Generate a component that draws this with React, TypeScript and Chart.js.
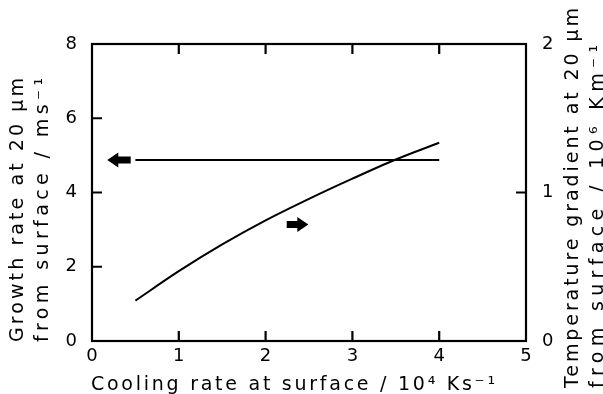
import React, { useEffect, useRef } from "react";
import { Chart, registerables } from "chart.js";

Chart.register(...registerables);

// ---- data ----
const coolingRate = [0.5, 1, 1.5, 2, 2.5, 3, 3.5, 4];
const tempGradient = [0.272, 0.47, 0.65, 0.812, 0.957, 1.093, 1.222, 1.335];
const growthRateX = [0.5, 4];
const growthRate = [4.875, 4.875];

const xTickValues = [0, 1, 2, 3, 4, 5];
const leftTickValues = [0, 2, 4, 6, 8];
const rightTickValues = [0, 1, 2];

// arrows (x in cooling rate, y in growth-rate units)
const arrowTailX = [0.446, 2.243];
const arrowTipX = [0.176, 2.492];
const arrowY = [4.875, 3.14];

const xTitle = "Cooling rate at surface / 10⁴ Ks⁻¹";
const leftTitle = ["Growth rate at 20 μm", "from surface / ms⁻¹"];
const rightTitle = ["Temperature gradient at 20 μm", "from surface / 10⁶ Km⁻¹"];

const FONT = "'DejaVu Sans', sans-serif";

function fitText(ctx: CanvasRenderingContext2D, text: string, target: number) {
  (ctx as any).letterSpacing = "0px";
  const w = ctx.measureText(text).width;
  const n = Array.from(text).length;
  const sp = (target - w) / Math.max(1, n - 1);
  (ctx as any).letterSpacing = `${sp}px`;
}

const framePlugin = {
  id: "framePlugin",
  afterDraw(chart: any) {
    const ctx: CanvasRenderingContext2D = chart.ctx;
    const { left, right, top, bottom } = chart.chartArea;
    const xs = chart.scales.x;
    const yl = chart.scales.y;
    const yr = chart.scales.y1;
    ctx.save();
    ctx.strokeStyle = "#000";
    ctx.lineWidth = 2.2;
    ctx.strokeRect(left, top, right - left, bottom - top);
    const tl = 10;
    ctx.beginPath();
    xTickValues.slice(1, -1).forEach((v) => {
      const px = xs.getPixelForValue(v);
      ctx.moveTo(px, bottom);
      ctx.lineTo(px, bottom - tl);
      ctx.moveTo(px, top);
      ctx.lineTo(px, top + tl);
    });
    leftTickValues.slice(1, -1).forEach((v) => {
      const py = yl.getPixelForValue(v);
      ctx.moveTo(left, py);
      ctx.lineTo(left + tl, py);
    });
    rightTickValues.slice(1, -1).forEach((v) => {
      const py = yr.getPixelForValue(v);
      ctx.moveTo(right, py);
      ctx.lineTo(right - tl, py);
    });
    ctx.stroke();

    // arrows
    ctx.fillStyle = "#000";
    arrowTipX.forEach((tip, i) => {
      const tx = xs.getPixelForValue(tip);
      const bx = xs.getPixelForValue(arrowTailX[i]);
      const py = yl.getPixelForValue(arrowY[i]);
      const dir = Math.sign(tx - bx);
      const headLen = 11;
      const headHalf = 7.5;
      const shaftHalf = 3.5;
      const hx = tx - dir * headLen;
      ctx.beginPath();
      ctx.moveTo(tx, py);
      ctx.lineTo(hx, py - headHalf);
      ctx.lineTo(hx, py - shaftHalf);
      ctx.lineTo(bx, py - shaftHalf);
      ctx.lineTo(bx, py + shaftHalf);
      ctx.lineTo(hx, py + shaftHalf);
      ctx.lineTo(hx, py + headHalf);
      ctx.closePath();
      ctx.fill();
    });

    // titles
    ctx.font = `19px ${FONT}`;
    ctx.fillStyle = "#000";
    ctx.textAlign = "left";
    ctx.textBaseline = "alphabetic";
    fitText(ctx, xTitle, 404);
    ctx.fillText(xTitle, left - 1, bottom + 49);

    const drawVert = (text: string, cx: number, startY: number, len: number) => {
      ctx.save();
      ctx.translate(cx, startY);
      ctx.rotate(-Math.PI / 2);
      ctx.textBaseline = "middle";
      fitText(ctx, text, len);
      ctx.fillText(text, 0, 0);
      ctx.restore();
    };
    drawVert(leftTitle[0], left - 74, bottom + 1, 264);
    drawVert(leftTitle[1], left - 49, bottom + 1, 264);
    drawVert(rightTitle[0], right + 47, bottom + 47, 380);
    drawVert(rightTitle[1], right + 72, bottom + 47, 343);
    (ctx as any).letterSpacing = "0px";
    ctx.restore();
  },
};

export default function App() {
  const ref = useRef<HTMLCanvasElement | null>(null);
  useEffect(() => {
    if (!ref.current) return;
    const tickFont = { family: FONT, size: 18 };
    const chart = new Chart(ref.current, {
      type: "line",
      data: {
        datasets: [
          {
            label: "Growth rate",
            data: growthRateX.map((x, i) => ({ x, y: growthRate[i] })),
            yAxisID: "y",
            borderColor: "#000",
            borderWidth: 2,
            pointRadius: 0,
            fill: false,
          },
          {
            label: "Temperature gradient",
            data: coolingRate.map((x, i) => ({ x, y: tempGradient[i] })),
            yAxisID: "y1",
            borderColor: "#000",
            borderWidth: 2,
            pointRadius: 0,
            fill: false,
            cubicInterpolationMode: "monotone",
          },
        ],
      },
      options: {
        animation: false,
        responsive: false,
        events: [],
        layout: { padding: { top: 44, left: 0, right: 0, bottom: 0 } },
        plugins: { legend: { display: false }, tooltip: { enabled: false } },
        scales: {
          x: {
            type: "linear",
            position: "bottom",
            min: 0,
            max: 5,
            afterBuildTicks: (s: any) => {
              s.ticks = xTickValues.map((v) => ({ value: v }));
            },
            afterFit: (s: any) => {
              s.height = 53;
            },
            ticks: { font: tickFont, color: "#000", padding: 5, maxRotation: 0 },
            grid: { display: false, drawTicks: false },
            border: { display: false },
          },
          y: {
            type: "linear",
            position: "left",
            min: 0,
            max: 8,
            afterBuildTicks: (s: any) => {
              s.ticks = leftTickValues.map((v) => ({ value: v }));
            },
            afterFit: (s: any) => {
              s.width = 92;
            },
            ticks: { font: tickFont, color: "#000", padding: 15 },
            grid: { display: false, drawTicks: false },
            border: { display: false },
          },
          y1: {
            type: "linear",
            position: "right",
            min: 0,
            max: 2,
            afterBuildTicks: (s: any) => {
              s.ticks = rightTickValues.map((v) => ({ value: v }));
            },
            afterFit: (s: any) => {
              s.width = 77;
            },
            ticks: { font: tickFont, color: "#000", padding: 16 },
            grid: { display: false, drawTicks: false },
            border: { display: false },
          },
        },
      } as any,
      plugins: [framePlugin],
    });
    return () => chart.destroy();
  }, []);
  return (
    <div style={{ position: "absolute", left: 0, top: 0, width: 603, height: 394, background: "#fff" }}>
      <canvas ref={ref} width={603} height={394} />
    </div>
  );
}
